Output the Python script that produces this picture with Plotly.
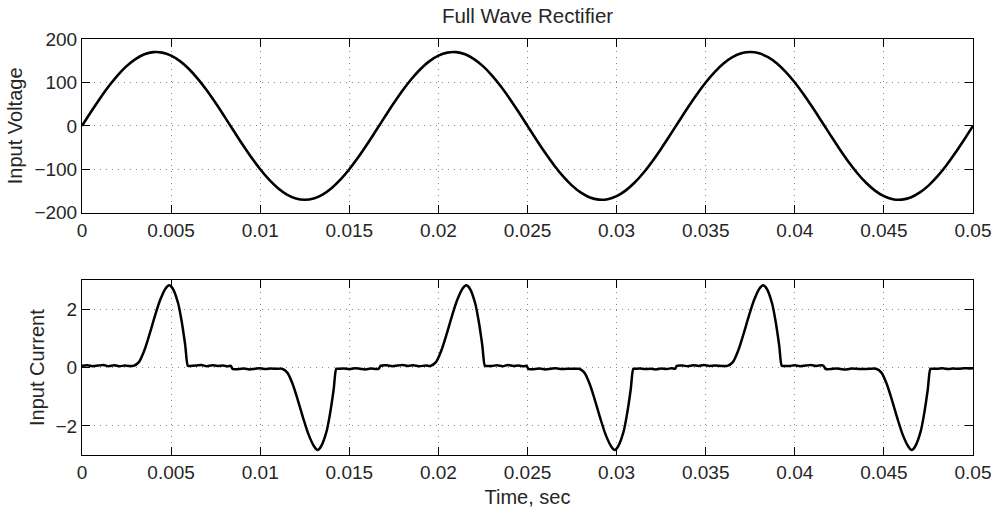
import plotly.graph_objects as go

# ---------------- data ----------------
# Input voltage, sampled every 0.5 ms (0 .. 0.05 s)
volt_v = [
    0.0, 31.9, 62.6, 91.1, 116.4, 137.5, 153.8, 164.7, 169.7, 168.7,
    161.7, 149.0, 131.0, 108.4, 81.9, 52.5, 21.3, -10.7, -42.3, -72.4,
    -99.9, -123.9, -143.5, -158.1, -167.0, -170.0, -167.0, -158.1, -143.5, -123.9,
    -99.9, -72.4, -42.3, -10.7, 21.3, 52.5, 81.9, 108.4, 131.0, 149.0,
    161.7, 168.7, 169.7, 164.7, 153.8, 137.5, 116.4, 91.1, 62.6, 31.9,
    0.0, -31.9, -62.6, -91.1, -116.4, -137.5, -153.8, -164.7, -169.7, -168.7,
    -161.7, -149.0, -131.0, -108.4, -81.9, -52.5, -21.3, 10.7, 42.3, 72.4,
    99.9, 123.9, 143.5, 158.1, 167.0, 170.0, 167.0, 158.1, 143.5, 123.9,
    99.9, 72.4, 42.3, 10.7, -21.3, -52.5, -81.9, -108.4, -131.0, -149.0,
    -161.7, -168.7, -169.7, -164.7, -153.8, -137.5, -116.4, -91.1, -62.6, -31.9,
    0.0,
]
volt_step = 0.0005
volt_t = [round(k * volt_step, 5) for k in range(len(volt_v))]

# Input current (time in s, current in A)
cur_t = [
    # flat (+)
    0.0, 0.0003, 0.0006, 0.0009, 0.0012, 0.0015, 0.0018, 0.0021, 0.0024, 0.0026,
    # pulse +
    0.00289, 0.00319, 0.00349, 0.00379, 0.00409, 0.00439, 0.00469,
    0.00489, 0.00509, 0.00539, 0.00559, 0.00579, 0.00594, 0.00601,
    # flat (+) then (-)
    0.0064, 0.0067, 0.0070, 0.0073, 0.0076, 0.0079, 0.0082, 0.00835,
    0.00845, 0.0088, 0.0091, 0.0094, 0.0097, 0.0100, 0.0103, 0.0106, 0.0109,
    # pulse -
    0.01122, 0.01152, 0.01182, 0.01212, 0.01242, 0.01272, 0.01302,
    0.01322, 0.01342, 0.01372, 0.01392, 0.01412, 0.01427, 0.01434,
    # flat (-) then (+)
    0.0147, 0.0150, 0.0153, 0.0156, 0.0159, 0.0162, 0.0165, 0.01665,
    0.01675, 0.0171, 0.0174, 0.0177, 0.0180, 0.0183, 0.0186, 0.0189, 0.0193,
    # pulse +
    0.01956, 0.01986, 0.02016, 0.02046, 0.02076, 0.02106, 0.02136,
    0.02156, 0.02176, 0.02206, 0.02226, 0.02246, 0.02261, 0.02268,
    # flat (+) then (-)
    0.0230, 0.0233, 0.0236, 0.0239, 0.0242, 0.0245, 0.0248, 0.02495,
    0.02505, 0.0254, 0.0257, 0.0260, 0.0263, 0.0266, 0.0269, 0.0272, 0.0276,
    # pulse -
    0.02789, 0.02819, 0.02849, 0.02879, 0.02909, 0.02939, 0.02969,
    0.02989, 0.03009, 0.03039, 0.03059, 0.03079, 0.03094, 0.03101,
    # flat (-) then (+)
    0.0313, 0.0316, 0.0319, 0.0322, 0.0325, 0.0328, 0.0331, 0.03328,
    0.03338, 0.0337, 0.0340, 0.0343, 0.0346, 0.0349, 0.0352, 0.0355, 0.0359,
    # pulse +
    0.03622, 0.03652, 0.03682, 0.03712, 0.03742, 0.03772, 0.03802,
    0.03822, 0.03842, 0.03872, 0.03892, 0.03912, 0.03927, 0.03934,
    # flat (+) then (-)
    0.0397, 0.0400, 0.0403, 0.0406, 0.0409, 0.0412, 0.0415, 0.04162,
    0.04172, 0.0420, 0.0423, 0.0426, 0.0429, 0.0432, 0.0435, 0.0438, 0.0442,
    # pulse -
    0.04456, 0.04486, 0.04516, 0.04546, 0.04576, 0.04606, 0.04636,
    0.04656, 0.04676, 0.04706, 0.04726, 0.04746, 0.04761, 0.04768,
    # flat (-)
    0.0480, 0.0483, 0.0486, 0.0489, 0.0492, 0.0495, 0.0498, 0.0500,
]
cur_i = [
    0.06, 0.08, 0.05, 0.07, 0.09, 0.05, 0.08, 0.05, 0.07, 0.06,
    0.06, 0.19, 0.58, 1.15, 1.77, 2.33, 2.72,
    2.83, 2.72, 2.22, 1.60, 0.78, 0.06, 0.06,
    0.07, 0.09, 0.05, 0.08, 0.06, 0.07, 0.05, 0.06,
    -0.04, -0.05, -0.03, -0.06, -0.04, -0.02, -0.05, -0.03, -0.04,
    -0.04, -0.17, -0.56, -1.13, -1.75, -2.31, -2.70,
    -2.83, -2.70, -2.20, -1.58, -0.76, -0.04, -0.04,
    -0.03, -0.05, -0.02, -0.04, -0.06, -0.03, -0.05, -0.04,
    0.06, 0.08, 0.05, 0.07, 0.09, 0.06, 0.08, 0.05, 0.07,
    0.06, 0.19, 0.58, 1.15, 1.77, 2.33, 2.72,
    2.83, 2.72, 2.22, 1.60, 0.78, 0.06, 0.06,
    0.06, 0.08, 0.05, 0.09, 0.06, 0.07, 0.05, 0.06,
    -0.04, -0.05, -0.03, -0.06, -0.04, -0.02, -0.05, -0.04, -0.04,
    -0.04, -0.17, -0.56, -1.13, -1.75, -2.31, -2.70,
    -2.83, -2.70, -2.20, -1.58, -0.76, -0.04, -0.04,
    -0.03, -0.05, -0.04, -0.06, -0.03, -0.05, -0.02, -0.04,
    0.06, 0.07, 0.05, 0.08, 0.06, 0.09, 0.06, 0.07, 0.06,
    0.06, 0.19, 0.58, 1.15, 1.77, 2.33, 2.72,
    2.83, 2.72, 2.22, 1.60, 0.78, 0.06, 0.06,
    0.06, 0.08, 0.05, 0.07, 0.09, 0.06, 0.08, 0.06,
    -0.04, -0.05, -0.03, -0.05, -0.06, -0.03, -0.04, -0.05, -0.04,
    -0.04, -0.17, -0.56, -1.13, -1.75, -2.31, -2.70,
    -2.83, -2.70, -2.20, -1.58, -0.76, -0.04, -0.04,
    -0.04, -0.02, -0.05, -0.03, -0.04, -0.02, -0.03, -0.02,
]

x_tickvals = [0, 0.005, 0.01, 0.015, 0.02, 0.025, 0.03, 0.035, 0.04, 0.045, 0.05]
x_ticktext = ["0", "0.005", "0.01", "0.015", "0.02", "0.025", "0.03", "0.035", "0.04", "0.045", "0.05"]
v_tickvals = [-200, -100, 0, 100, 200]
v_ticktext = ["\u2212200", "\u2212100", "0", "100", "200"]
i_tickvals = [-2, 0, 2]
i_ticktext = ["\u22122", "0", "2"]

title_text = "Full Wave Rectifier"
xlabel = "Time, sec"
ylabel_top = "Input Voltage"
ylabel_bot = "Input Current"

# ---------------- figure ----------------
FONT = "Liberation Sans, Arial, Helvetica, sans-serif"
TXT = "#262626"

fig = go.Figure()
fig.add_trace(go.Scatter(x=volt_t, y=volt_v, mode="lines",
                         line=dict(color="black", width=2.6, shape="spline"),
                         xaxis="x", yaxis="y", showlegend=False))
fig.add_trace(go.Scatter(x=cur_t, y=cur_i, mode="lines",
                         line=dict(color="black", width=2.5, shape="spline", smoothing=0.8),
                         xaxis="x2", yaxis="y2", showlegend=False))

axis_common = dict(
    showline=True, linecolor="black", linewidth=1, mirror="ticks",
    ticks="inside", ticklen=8, tickcolor="black", tickwidth=1,
    showgrid=True, gridcolor="#8a8a8a", gridwidth=1, griddash="1px,5px",
    zeroline=False, tickfont=dict(family=FONT, size=19, color=TXT),
)
label_font = dict(family=FONT, size=20, color=TXT)

fig.update_layout(
    width=1003, height=517,
    margin=dict(l=82, r=27, t=39, b=59),
    paper_bgcolor="white", plot_bgcolor="white",
    font=dict(family=FONT, size=19, color=TXT),
    title=dict(text=title_text, x=0.5, xref="paper", xanchor="center",
               y=1 - 16.0 / 517, yref="container", yanchor="middle",
               font=dict(family=FONT, size=20.5, color=TXT)),
    xaxis=dict(domain=[0, 1], anchor="y", range=[0, 0.05],
               tickmode="array", tickvals=x_tickvals, ticktext=x_ticktext, **axis_common),
    yaxis=dict(domain=[0.5823, 1], anchor="x", range=[-200, 200],
               tickmode="array", tickvals=v_tickvals, ticktext=v_ticktext,
               title=dict(text=ylabel_top, standoff=6, font=label_font),
               **axis_common),
    xaxis2=dict(domain=[0, 1], anchor="y2", range=[0, 0.05],
                tickmode="array", tickvals=x_tickvals, ticktext=x_ticktext,
                title=dict(text=xlabel, standoff=8, font=label_font),
                **axis_common),
    yaxis2=dict(domain=[0, 0.42], anchor="x2", range=[-3, 3],
                tickmode="array", tickvals=i_tickvals, ticktext=i_ticktext,
                title=dict(text=ylabel_bot, standoff=5, font=label_font),
                **axis_common),
)

# remove the default 8px page margin so the figure sits at the window's top-left corner
fig.write_html("out.html",
               config={"displayModeBar": False},
               post_script="document.body.style.margin='0px';document.body.style.overflow='hidden';")
